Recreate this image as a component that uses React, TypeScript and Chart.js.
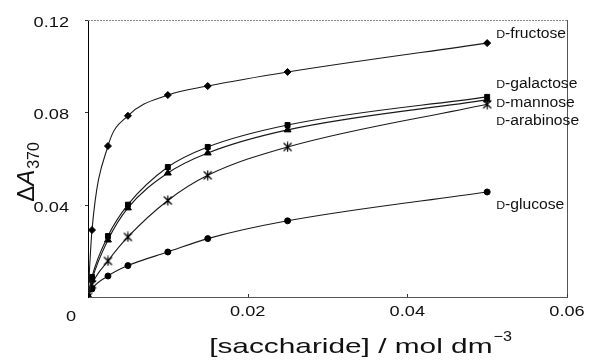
import React, { useEffect, useRef } from "react";
import { Chart, registerables } from "chart.js";

Chart.register(...registerables);

// ---- data ----
const concentrations = [0, 0.0005, 0.0025, 0.005, 0.01, 0.015, 0.025, 0.05];
const fructose = [0, 0.029, 0.0654, 0.0785, 0.0875, 0.0914, 0.0975, 0.11];
const galactose = [0, 0.0087, 0.0264, 0.04, 0.0563, 0.065, 0.0745, 0.0867];
const mannose = [0, 0.0075, 0.0247, 0.0386, 0.0537, 0.0624, 0.0724, 0.0854];
const arabinose = [0, 0.0055, 0.0156, 0.026, 0.0418, 0.0527, 0.065, 0.0835];
const glucose = [0, 0.0035, 0.0091, 0.0136, 0.0195, 0.0253, 0.033, 0.0455];
const sugarNames = ["fructose", "galactose", "mannose", "arabinose", "glucose"];
const seriesValues = [fructose, galactose, mannose, arabinose, glucose];
const xTickValues = [0.02, 0.04, 0.06];
const yTickValues = [0.04, 0.08, 0.12];
const xTickLabels = ["0.02", "0.04", "0.06"];
const yTickLabels = ["0.04", "0.08", "0.12"];

// ---- styles ----
const FONT = '"Liberation Sans", Arial, Helvetica, sans-serif';
const STRETCH = 1.3;
const labelOffsets = [-10, -14, 2, 16, 12];

function makeStar(): HTMLCanvasElement {
  const c = document.createElement("canvas");
  c.width = 11;
  c.height = 11;
  const g = c.getContext("2d")!;
  g.strokeStyle = "#000";
  g.lineWidth = 1.2;
  g.beginPath();
  g.moveTo(1.5, 1.5);
  g.lineTo(9.5, 9.5);
  g.moveTo(9.5, 1.5);
  g.lineTo(1.5, 9.5);
  g.moveTo(5.5, 0.5);
  g.lineTo(5.5, 10.5);
  g.stroke();
  return c;
}

function drawText(
  ctx: CanvasRenderingContext2D,
  text: string,
  x: number,
  y: number,
  font: string,
  align: "left" | "center" | "right",
  baseline: CanvasTextBaseline,
  sx = STRETCH
): number {
  ctx.save();
  ctx.font = font;
  ctx.textBaseline = baseline;
  ctx.textAlign = "left";
  const w = ctx.measureText(text).width * sx;
  let left = x;
  if (align === "center") left = x - w / 2;
  if (align === "right") left = x - w;
  ctx.translate(left, y);
  ctx.scale(sx, 1);
  ctx.fillText(text, 0, 0);
  ctx.restore();
  return w;
}

const annotate = {
  id: "annotate",
  afterDraw(chart: any) {
    const { ctx, chartArea: a, scales } = chart;
    const xs = scales.x;
    const ys = scales.y;
    ctx.save();
    // top frame (dotted grey) and right frame
    ctx.lineWidth = 1;
    ctx.strokeStyle = "#8a8a8a";
    ctx.setLineDash([2, 1]);
    ctx.beginPath();
    ctx.moveTo(a.left, a.top + 0.5);
    ctx.lineTo(a.right, a.top + 0.5);
    ctx.stroke();
    ctx.setLineDash([]);
    ctx.strokeStyle = "#555";
    ctx.beginPath();
    ctx.moveTo(a.right + 0.5, a.top);
    ctx.lineTo(a.right + 0.5, a.bottom);
    ctx.stroke();
    // small ticks
    ctx.strokeStyle = "#333";
    xTickValues.forEach((v) => {
      const px = Math.round(xs.getPixelForValue(v)) + 0.5;
      ctx.beginPath();
      ctx.moveTo(px, a.bottom);
      ctx.lineTo(px, a.bottom - 3);
      ctx.stroke();
    });
    yTickValues.forEach((v) => {
      const py = Math.round(ys.getPixelForValue(v)) + 0.5;
      ctx.beginPath();
      ctx.moveTo(a.left - 3, py);
      ctx.lineTo(a.left, py);
      ctx.stroke();
    });

    ctx.fillStyle = "#111";
    const tickFont = `14px ${FONT}`;
    // tick labels
    xTickValues.forEach((v, i) => {
      drawText(ctx, xTickLabels[i], xs.getPixelForValue(v), a.bottom + 15, tickFont, "center", "middle");
    });
    yTickValues.forEach((v, i) => {
      drawText(ctx, yTickLabels[i], a.left - 19, ys.getPixelForValue(v) + 3, tickFont, "right", "middle");
    });
    // corner "0"
    drawText(ctx, "0", a.left - 17, a.bottom + 20, tickFont, "center", "middle");

    // series labels with small-capital D
    const lastIdx = concentrations.length - 1;
    sugarNames.forEach((name, i) => {
      const px = xs.getPixelForValue(concentrations[lastIdx]) + 9;
      const py = ys.getPixelForValue(seriesValues[i][lastIdx]) + labelOffsets[i];
      const base = py + 5;
      const w = drawText(ctx, "D", px, base, `11px ${FONT}`, "left", "alphabetic", 1.12);
      drawText(ctx, "-" + name, px + w, base, `14px ${FONT}`, "left", "alphabetic", 1.12);
    });

    // x axis title
    const xt1 = "[saccharide] / mol dm";
    const bigFont = `21px ${FONT}`;
    const supFont = `14px ${FONT}`;
    const bigS = 1.42;
    ctx.font = bigFont;
    const w1 = ctx.measureText(xt1).width * bigS;
    ctx.font = supFont;
    const w2 = ctx.measureText("\u22123").width * 1.15;
    const cx = 360;
    const sx0 = cx - (w1 + w2) / 2;
    drawText(ctx, xt1, sx0, 353, bigFont, "left", "alphabetic", bigS);
    drawText(ctx, "\u22123", sx0 + w1 + 1, 341, supFont, "left", "alphabetic", 1.15);

    // y axis title (rotated)
    ctx.save();
    ctx.translate(34, 172);
    ctx.rotate(-Math.PI / 2);
    const yf = `24px ${FONT}`;
    const yfi = `italic 24px ${FONT}`;
    const ysub = `16px ${FONT}`;
    ctx.font = yf;
    const wd = ctx.measureText("\u0394").width;
    ctx.font = yfi;
    const wa = ctx.measureText("A").width;
    ctx.font = ysub;
    const ws = ctx.measureText("370").width;
    let tx = -(wd + wa + ws + 1) / 2;
    ctx.textAlign = "left";
    ctx.textBaseline = "alphabetic";
    ctx.font = yf;
    ctx.fillText("\u0394", tx, 0);
    tx += wd;
    ctx.font = yfi;
    ctx.fillText("A", tx, 0);
    tx += wa + 1;
    ctx.font = ysub;
    ctx.fillText("370", tx, 5);
    ctx.restore();

    ctx.restore();
  },
};

export default function App() {
  const canvasRef = useRef<HTMLCanvasElement | null>(null);

  useEffect(() => {
    if (!canvasRef.current) return;
    const star = makeStar();
    const pointStyles: any[] = ["rectRot", "rect", "triangle", star, "circle"];
    const pointRadii = [3.5, 3.5, 4, 5, 3];
    const datasets = sugarNames.map((name, i) => ({
      label: "D-" + name,
      data: concentrations.map((c, j) => ({ x: c, y: seriesValues[i][j] })),
      borderColor: "#1a1a1a",
      backgroundColor: "#000",
      borderWidth: 1.1,
      pointStyle: pointStyles[i],
      pointRadius: pointRadii[i],
      pointBorderWidth: 1,
      pointBorderColor: "#000",
      pointBackgroundColor: "#000",
      cubicInterpolationMode: "monotone" as const,
      fill: false,
    }));

    const chart = new Chart(canvasRef.current, {
      type: "line",
      data: { datasets },
      plugins: [annotate],
      options: {
        animation: false,
        responsive: false,
        maintainAspectRatio: false,
        layout: { padding: { left: 0, top: 20, right: 22, bottom: 0 } },
        plugins: {
          legend: { display: false },
          tooltip: { enabled: false },
          title: { display: false },
        },
        scales: {
          x: {
            type: "linear",
            min: 0,
            max: 0.06,
            afterFit: (s: any) => {
              s.height = 64;
              s.paddingLeft = 0;
              s.paddingRight = 0;
            },
            ticks: { display: false },
            grid: { display: false, drawTicks: false },
            border: { display: true, color: "#555", width: 1 },
          },
          y: {
            type: "linear",
            min: 0,
            max: 0.12,
            afterFit: (s: any) => {
              s.width = 88;
              s.paddingTop = 0;
              s.paddingBottom = 0;
            },
            ticks: { display: false },
            grid: { display: false, drawTicks: false },
            border: { display: true, color: "#000", width: 1 },
          },
        },
      },
    });
    return () => chart.destroy();
  }, []);

  return (
    <div
      style={{
        position: "fixed",
        left: 0,
        top: 0,
        width: 589,
        height: 361,
        background: "#fff",
      }}
    >
      <canvas ref={canvasRef} width={589} height={361} style={{ display: "block" }} />
    </div>
  );
}
